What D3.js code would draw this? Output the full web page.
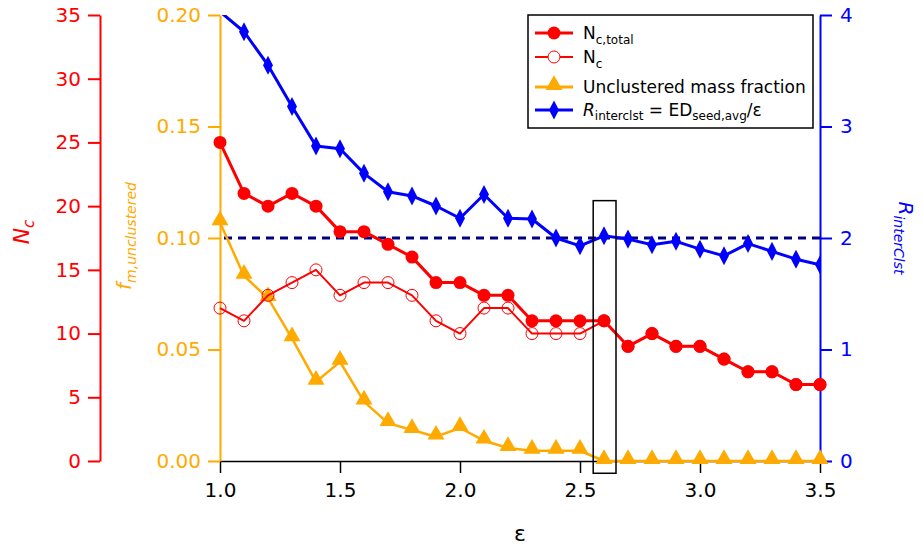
<!DOCTYPE html>
<html>
<head>
<meta charset="utf-8">
<script src="https://cdn.jsdelivr.net/npm/d3@7"></script>
<style>
  body { margin: 0; background: #fff; }
  text { font-family: "DejaVu Sans", sans-serif; }
</style>
</head>
<body>
<div id="chart"></div>
<script>
// data
const eps = [1.0,1.1,1.2,1.3,1.4,1.5,1.6,1.7,1.8,1.9,2.0,2.1,2.2,2.3,2.4,2.5,2.6,2.7,2.8,2.9,3.0,3.1,3.2,3.3,3.4,3.5];
const ncTotal = [25,21,20,21,20,18,18,17,16,14,14,13,13,11,11,11,11,9,10,9,9,8,7,7,6,6];
const ncOnly  = [12,11,13,14,15,13,14,14,13,11,10,12,12,10,10,10,11,9,10,9,9,8,7,7,6,6];
const fUnclust = [0.107,0.083,0.073,0.055,0.0355,0.0445,0.0266,0.017,0.0139,0.0109,0.0148,0.0091,0.0058,0.0046,0.0046,0.0046,0,0,0,0,0,0,0,0,0,0];
const rInter = [4.03,3.85,3.55,3.18,2.825,2.80,2.58,2.415,2.377,2.287,2.177,2.39,2.177,2.17,2.0,1.93,2.02,1.99,1.94,1.97,1.90,1.84,1.95,1.88,1.81,1.76];
const rRef = 2;
const xTicks = [1.0,1.5,2.0,2.5,3.0,3.5];
const ncTicks = [0,5,10,15,20,25,30,35];
const fTicks = [0,0.05,0.10,0.15,0.20];
const rTicks = [0,1,2,3,4];
const box = {x0: 2.555, x1: 2.65, y0: -0.11, y1: 2.335};

const RED = "#ff0000", ORANGE = "#ffaa00", BLUE = "#0000ff", NAVY = "#000080";

const width = 923, height = 550;
const plotLeft = 220, plotRight = 820, plotTop = 15, plotBottom = 461;

const svg = d3.select("#chart").append("svg")
  .attr("width", width)
  .attr("height", height);

const x = d3.scaleLinear().domain([1.0, 3.5]).range([plotLeft, plotRight]);
const yNc = d3.scaleLinear().domain([0, 35]).range([plotBottom, plotTop]);
const yF = d3.scaleLinear().domain([0, 0.20]).range([plotBottom, plotTop]);
const yR = d3.scaleLinear().domain([0, 4]).range([plotBottom, plotTop]);

svg.append("clipPath").attr("id", "plotclip")
  .append("rect")
  .attr("x", plotLeft).attr("y", plotTop)
  .attr("width", plotRight - plotLeft).attr("height", plotBottom - plotTop);

function styleAxis(g, color, size) {
  g.select(".domain").attr("stroke", color).attr("stroke-width", 2);
  g.selectAll(".tick line").attr("stroke", color).attr("stroke-width", 2);
  g.selectAll(".tick text").attr("fill", color)
    .attr("font-size", size + "px")
    .attr("font-family", "DejaVu Sans, sans-serif");
}

// bottom axis
const gx = svg.append("g")
  .attr("transform", `translate(0,${plotBottom})`)
  .call(d3.axisBottom(x).tickValues(xTicks).tickFormat(d3.format(".1f")).tickSize(12).tickSizeOuter(0).tickPadding(10));
styleAxis(gx, "#000", 20);
gx.select(".domain").attr("stroke-width", 1.5);
gx.selectAll(".tick line").attr("stroke-width", 1.5);

// red Nc axis, detached on the far left
const gNc = svg.append("g")
  .attr("transform", "translate(100,0)")
  .call(d3.axisLeft(yNc).tickValues(ncTicks).tickSize(12).tickSizeOuter(0).tickPadding(7));
styleAxis(gNc, RED, 20);

// orange fraction axis
const gF = svg.append("g")
  .attr("transform", `translate(${plotLeft},0)`)
  .call(d3.axisLeft(yF).tickValues(fTicks).tickFormat(d3.format(".2f")).tickSize(12).tickSizeOuter(0).tickPadding(7));
styleAxis(gF, ORANGE, 20);

// blue R axis
const gR = svg.append("g")
  .attr("transform", `translate(${plotRight},0)`)
  .call(d3.axisRight(yR).tickValues(rTicks).tickFormat(d3.format("d")).tickSize(12).tickSizeOuter(0).tickPadding(8));
styleAxis(gR, BLUE, 20);

// axis titles
svg.append("text")
  .attr("transform", "translate(29,232) rotate(-90)")
  .attr("text-anchor", "middle")
  .attr("fill", RED).attr("font-size", "22px").attr("font-style", "italic")
  .call(t => {
    t.append("tspan").text("N");
    t.append("tspan").attr("font-size", "15px").attr("dy", 5).text("c");
  });

svg.append("text")
  .attr("transform", "translate(131,236) rotate(-90)")
  .attr("text-anchor", "middle")
  .attr("fill", ORANGE).attr("font-size", "20px").attr("font-style", "italic")
  .call(t => {
    t.append("tspan").text("f");
    t.append("tspan").attr("font-size", "14px").attr("dy", 5).text("m,unclustered");
  });

svg.append("text")
  .attr("transform", "translate(899,238) rotate(90)")
  .attr("text-anchor", "middle")
  .attr("fill", BLUE).attr("font-size", "20px").attr("font-style", "italic")
  .call(t => {
    t.append("tspan").text("R");
    t.append("tspan").attr("font-size", "14px").attr("dy", 5).text("interClst");
  });

svg.append("text")
  .attr("x", (plotLeft + plotRight) / 2).attr("y", 541)
  .attr("text-anchor", "middle")
  .attr("font-size", "22px").attr("fill", "#000")
  .text("ε");

const plot = svg.append("g");

// reference dashed line at R = 2
plot.append("line")
  .attr("x1", x(1.0)).attr("x2", x(3.5))
  .attr("y1", yR(rRef)).attr("y2", yR(rRef))
  .attr("stroke", NAVY).attr("stroke-width", 3)
  .attr("stroke-dasharray", "8,6").attr("stroke-dashoffset", -4);

const tri = d3.symbol().type(d3.symbolTriangle).size(125);
const dia = d3.symbol().type(d3.symbolDiamond).size(95);
const diaScale = "scale(0.95,1.05)";

function drawSeries(values, yScale, color, lw) {
  const line = d3.line().x((d, i) => x(eps[i])).y(d => yScale(d));
  plot.append("path")
    .datum(values)
    .attr("d", line)
    .attr("fill", "none")
    .attr("stroke", color)
    .attr("stroke-width", lw)
    .attr("stroke-linejoin", "round");
}

// unclustered fraction
drawSeries(fUnclust, yF, ORANGE, 2.5);
plot.selectAll(".tri").data(fUnclust).join("path")
  .attr("transform", (d, i) => `translate(${x(eps[i])},${yF(d) - 2})`)
  .attr("d", tri).attr("fill", ORANGE);

// Nc (open circles)
drawSeries(ncOnly, yNc, RED, 2);
plot.selectAll(".open").data(ncOnly).join("circle")
  .attr("cx", (d, i) => x(eps[i])).attr("cy", d => yNc(d))
  .attr("r", 6).attr("fill", "none").attr("stroke", RED).attr("stroke-width", 1);

// Nc,total (filled circles)
drawSeries(ncTotal, yNc, RED, 3);
plot.selectAll(".filled").data(ncTotal).join("circle")
  .attr("cx", (d, i) => x(eps[i])).attr("cy", d => yNc(d))
  .attr("r", 6.5).attr("fill", RED);

// R_interclst (diamonds), clipped to the plot area; points beyond the axis get no marker
const rg = plot.append("g").attr("clip-path", "url(#plotclip)");
rg.append("path")
  .datum(rInter)
  .attr("d", d3.line().x((d, i) => x(eps[i])).y(d => yR(d)))
  .attr("fill", "none").attr("stroke", BLUE).attr("stroke-width", 3)
  .attr("stroke-linejoin", "round");
rg.selectAll(".dia").data(rInter.map((d, i) => ({e: eps[i], r: d})).filter(p => p.r <= yR.domain()[1]))
  .join("path")
  .attr("transform", p => `translate(${x(p.e)},${yR(p.r)}) ${diaScale}`)
  .attr("d", dia).attr("fill", BLUE);

// highlight box around eps = 2.6
plot.append("rect")
  .attr("x", x(box.x0)).attr("y", yR(box.y1))
  .attr("width", x(box.x1) - x(box.x0))
  .attr("height", yR(box.y0) - yR(box.y1))
  .attr("fill", "none").attr("stroke", "#000").attr("stroke-width", 1.5);

// legend
const legend = svg.append("g");
legend.append("rect")
  .attr("x", 528).attr("y", 15).attr("width", 285).attr("height", 113)
  .attr("fill", "#fff").attr("stroke", "#000").attr("stroke-width", 1.5);

const legendRows = [
  {y: 33, color: RED, mark: "filled", main: "N", sub: "c,total"},
  {y: 57, color: RED, mark: "open", main: "N", sub: "c"},
  {y: 87, color: ORANGE, mark: "tri", main: "Unclustered mass fraction"},
  {y: 110, color: BLUE, mark: "dia"}
];
legendRows.forEach(r => {
  const g = legend.append("g");
  g.append("line").attr("x1", 535).attr("x2", 573).attr("y1", r.y).attr("y2", r.y)
    .attr("stroke", r.color).attr("stroke-width", r.mark === "open" ? 2 : 3);
  if (r.mark === "filled") g.append("circle").attr("cx", 554).attr("cy", r.y).attr("r", 6.5).attr("fill", r.color);
  if (r.mark === "open") g.append("circle").attr("cx", 554).attr("cy", r.y).attr("r", 6).attr("fill", "#fff").attr("stroke", r.color);
  if (r.mark === "tri") g.append("path").attr("transform", `translate(554,${r.y - 2})`).attr("d", tri).attr("fill", r.color);
  if (r.mark === "dia") g.append("path").attr("transform", `translate(554,${r.y}) ${diaScale}`).attr("d", dia).attr("fill", r.color);

  const t = g.append("text").attr("x", 583).attr("y", r.y + 6).attr("font-size", "17px").attr("fill", "#000");
  if (r.mark === "dia") {
    t.append("tspan").attr("font-style", "italic").text("R");
    t.append("tspan").attr("font-size", "12px").attr("dy", 4).text("interclst");
    t.append("tspan").attr("dy", -4).text(" = ED");
    t.append("tspan").attr("font-size", "12px").attr("dy", 4).text("seed,avg");
    t.append("tspan").attr("dy", -4).text("/ε");
  } else {
    t.append("tspan").text(r.main);
    if (r.sub) t.append("tspan").attr("font-size", "12px").attr("dy", 5).text(r.sub);
  }
});
</script>
</body>
</html>
